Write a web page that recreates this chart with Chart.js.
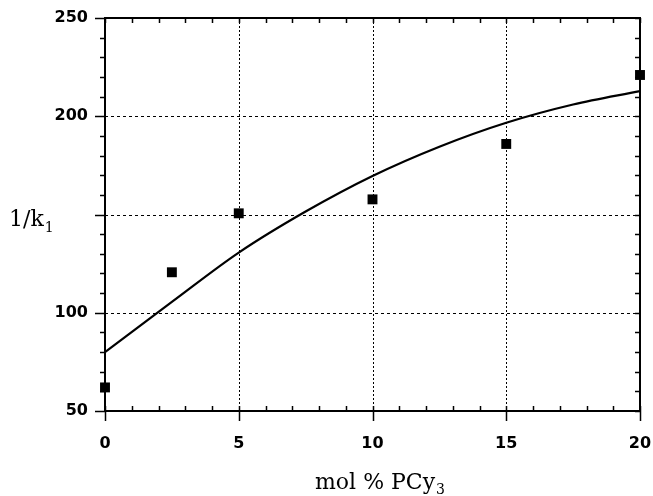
<!DOCTYPE html>
<html>
<head>
<meta charset="utf-8">
<script src="https://cdn.jsdelivr.net/npm/chart.js@4"></script>
<style>
  html, body { margin: 0; padding: 0; background: #fff; }
  canvas { display: block; }
</style>
</head>
<body>
<canvas id="chart" width="653" height="496"></canvas>
<script>
// measured points
var molPct = [0, 2.5, 5, 10, 15, 20];
var invK1 = [62, 120.6, 150.6, 157.7, 185.9, 221];

// fitted curve
var fitX = [0, 2.5, 5, 7.5, 10, 12.5, 15, 17.5, 20];
var fitY = [80, 105.5, 130.6, 151.5, 169.6, 184.5, 196.7, 206, 212.8];

var xTicks = [0, 5, 10, 15, 20];
var yTicks = [50, 100, 150, 200, 250];
var yTickLabels = ['50', '100', '', '200', '250'];

var toXY = function (xs, ys) {
    var out = [];
    for (var i = 0; i < xs.length; i++) out.push({x: xs[i], y: ys[i]});
    return out;
};

// frame, dashed grid, minor/major tick marks and the two axis titles
var framePlugin = {
    id: 'frame',
    afterDatasetsDraw: function (chart) {
        var ctx = chart.ctx, a = chart.chartArea;
        var xs = chart.scales.x, ys = chart.scales.y;
        var i, px, py;
        ctx.save();
        ctx.strokeStyle = '#000';

        // grid
        ctx.lineWidth = 1;
        ctx.setLineDash([3, 3]);
        for (i = 1; i < yTicks.length - 1; i++) {
            py = Math.round(ys.getPixelForValue(yTicks[i])) + 0.5;
            ctx.beginPath(); ctx.moveTo(a.left, py); ctx.lineTo(a.right, py); ctx.stroke();
        }
        ctx.setLineDash([2, 2]);
        for (i = 1; i < xTicks.length - 1; i++) {
            px = Math.round(xs.getPixelForValue(xTicks[i])) + 0.5;
            ctx.beginPath(); ctx.moveTo(px, a.top); ctx.lineTo(px, a.bottom); ctx.stroke();
        }
        ctx.setLineDash([]);

        // tick marks
        ctx.lineWidth = 1.5;
        for (var v = 0; v <= 20; v++) {
            px = Math.round(xs.getPixelForValue(v)) + 0.5;
            var major = v % 5 === 0;
            ctx.beginPath();
            ctx.moveTo(px, a.bottom + (major ? 10 : 0)); ctx.lineTo(px, a.bottom - 5);
            ctx.moveTo(px, a.top); ctx.lineTo(px, a.top + 5);
            ctx.stroke();
        }
        for (var w = 50; w <= 250; w += 10) {
            py = Math.round(ys.getPixelForValue(w)) + 0.5;
            var majorY = w % 50 === 0;
            ctx.beginPath();
            ctx.moveTo(a.left - (majorY ? 10 : 5), py); ctx.lineTo(a.left, py);
            ctx.moveTo(a.right, py); ctx.lineTo(a.right - 5, py);
            ctx.stroke();
        }

        // frame
        ctx.lineWidth = 2;
        ctx.strokeRect(a.left, a.top, a.right - a.left, a.bottom - a.top);

        // titles
        ctx.fillStyle = '#000';
        ctx.textBaseline = 'alphabetic';
        ctx.textAlign = 'left';
        ctx.font = '22px "DejaVu Serif"';
        ctx.fillText('1/k', 9, 226);
        var wk = ctx.measureText('1/k').width;
        ctx.font = '14px "DejaVu Serif"';
        ctx.fillText('1', 9 + wk + 1, 232);

        ctx.font = '22px "DejaVu Serif"';
        var main = 'mol % PCy';
        var wm = ctx.measureText(main).width;
        ctx.font = '14px "DejaVu Serif"';
        var ws = ctx.measureText('3').width;
        var x0 = 380 - (wm + ws + 1) / 2;
        ctx.font = '22px "DejaVu Serif"';
        ctx.fillText(main, x0, 489);
        ctx.font = '14px "DejaVu Serif"';
        ctx.fillText('3', x0 + wm + 1, 494);
        ctx.restore();
    }
};

var tickFont = {family: '"DejaVu Sans"', size: 16, weight: 'bold'};

var ctx = document.getElementById('chart');
var chart = new Chart(ctx, {
    type: 'scatter',
    data: {
        datasets: [
            {
                label: 'fit',
                data: toXY(fitX, fitY),
                showLine: true,
                borderColor: '#000',
                borderWidth: 2.2,
                pointRadius: 0,
                cubicInterpolationMode: 'monotone',
                fill: false
            },
            {
                label: '1/k1',
                data: toXY(molPct, invK1),
                pointStyle: 'rect',
                pointRadius: 7,
                pointBackgroundColor: '#000',
                pointBorderColor: '#000',
                pointBorderWidth: 0,
                showLine: false
            }
        ]
    },
    options: {
        responsive: false,
        animation: false,
        clip: false,
        layout: {padding: {top: 18, right: 13, left: 0, bottom: 0}},
        plugins: {legend: {display: false}, tooltip: {enabled: false}},
        scales: {
            x: {
                type: 'linear', min: 0, max: 20,
                grid: {display: false, drawTicks: false},
                border: {display: false},
                afterFit: function (s) {
                    s.height = 85;
                    s.paddingLeft = 0; s.paddingRight = 0;
                },
                afterBuildTicks: function (s) {
                    s.ticks = xTicks.map(function (v) { return {value: v}; });
                },
                ticks: {color: '#000', font: tickFont, padding: 23, maxRotation: 0,
                    callback: function (v) { return String(v); }}
            },
            y: {
                type: 'linear', min: 50, max: 250,
                grid: {display: false, drawTicks: false},
                border: {display: false},
                afterFit: function (s) {
                    s.width = 105;
                    s.paddingTop = 0; s.paddingBottom = 0;
                },
                afterBuildTicks: function (s) {
                    s.ticks = yTicks.map(function (v) { return {value: v}; });
                },
                ticks: {color: '#000', font: tickFont, padding: 17,
                    callback: function (v) { return yTickLabels[yTicks.indexOf(v)]; }}
            }
        }
    },
    plugins: [framePlugin]
});
</script>
</body>
</html>
